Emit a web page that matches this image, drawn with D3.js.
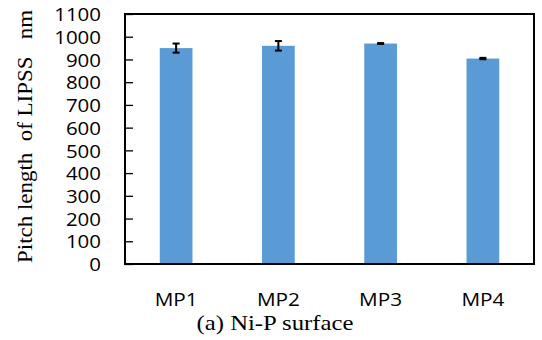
<!DOCTYPE html>
<html><head><meta charset="utf-8">
<script src="https://cdn.jsdelivr.net/npm/d3@7"></script>
<style>body{margin:0;background:#fff}</style>
</head><body>
<svg id="c" width="542" height="340"></svg>
<script>
const categories = ["MP1","MP2","MP3","MP4"];
const values = [950, 960, 970, 904];
const errors = [20, 21, 2, 3];
const yTicks = [0,100,200,300,400,500,600,700,800,900,1000,1100];
const yTitle = "Pitch length  of LIPSS   nm";
const caption = "(a) Ni-P surface";

const svg = d3.select("#c");
const L = 125, R = 534, T = 14, B = 264;
const x = d3.scaleBand().domain(categories).range([L, R]).paddingInner(0.68).paddingOuter(0.34);
const y = d3.scaleLinear().domain([0, 1100]).range([B, T]);

// bars
svg.selectAll("rect.bar").data(values).join("rect")
  .attr("x", (d,i) => x(categories[i])).attr("width", x.bandwidth())
  .attr("y", d => y(d)).attr("height", d => y(0) - y(d))
  .attr("fill", "#5B9BD5");

// error bars
const eb = svg.append("g").attr("stroke", "#000").attr("stroke-width", 2);
values.forEach((v,i) => {
  const cx = x(categories[i]) + x.bandwidth()/2;
  eb.append("line").attr("x1", cx).attr("x2", cx).attr("y1", y(v+errors[i])).attr("y2", y(v-errors[i]));
  eb.append("line").attr("x1", cx-3.5).attr("x2", cx+3.5).attr("y1", y(v+errors[i])).attr("y2", y(v+errors[i]));
  eb.append("line").attr("x1", cx-3.5).attr("x2", cx+3.5).attr("y1", y(v-errors[i])).attr("y2", y(v-errors[i]));
});

// y axis with inward ticks
const yAxis = svg.append("g").attr("transform", `translate(${L},0)`)
  .call(d3.axisLeft(y).tickValues(yTicks).tickSize(-8).tickPadding(24).tickFormat(d3.format("d")));
yAxis.select(".domain").remove();
yAxis.selectAll(".tick line").attr("stroke", "#000").attr("stroke-width", 1.3);
yAxis.selectAll(".tick text").attr("font-family", "'Open Sans', sans-serif").attr("font-size", 18.5).attr("fill", "#000")
  .attr("dy", "0.36em")
  .each(function(){ const t = d3.select(this); const s = t.text(); t.attr("textLength", s.length*11.7).attr("lengthAdjust","spacingAndGlyphs"); });

// frame
svg.append("rect").attr("x", L).attr("y", T).attr("width", R-L).attr("height", B-T)
  .attr("fill", "none").attr("stroke", "#000").attr("stroke-width", 2);

// x axis labels
const xAxis = svg.append("g").attr("transform", `translate(0,${B})`)
  .call(d3.axisBottom(x).tickSize(0).tickPadding(0));
xAxis.select(".domain").remove();
xAxis.selectAll(".tick text").attr("font-family", "'Open Sans', sans-serif").attr("font-size", 17.5).attr("fill", "#000")
  .attr("y", 41.7).attr("dy", 0)
  .attr("textLength", 43).attr("lengthAdjust","spacingAndGlyphs");

// y title
svg.append("text").attr("transform", `translate(32,${136.5}) rotate(-90)`)
  .attr("text-anchor", "middle").attr("font-family", "'Liberation Serif', serif").attr("font-size", 20)
  .style("white-space","pre")
  .attr("textLength", 253).attr("lengthAdjust","spacingAndGlyphs")
  .text(yTitle);

// caption
svg.append("text").attr("x", 275).attr("y", 330).attr("text-anchor", "middle")
  .attr("font-family", "'Liberation Serif', serif").attr("font-size", 22)
  .attr("textLength", 157).attr("lengthAdjust","spacingAndGlyphs").text(caption);
</script>
</body></html>
